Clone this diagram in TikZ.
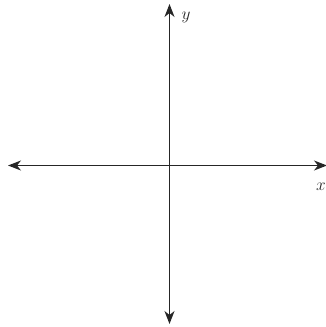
\documentclass[tikz,border=0pt]{standalone}
\usetikzlibrary{arrows.meta}
\begin{document}
\begin{tikzpicture}[x=1pt,y=-1pt,
  axis/.style={draw=black!85, line width=1.5pt, {Stealth[length=13pt,width=10pt,inset=4pt]}-{Stealth[length=13pt,width=10pt,inset=4pt]}},
  lbl/.style={font=\LARGE, text=black!85, inner sep=0pt}]
\useasboundingbox (0,0) rectangle (326,327);
\coordinate (L) at (8,165.5);
\coordinate (R) at (327,165.5);
\coordinate (T) at (169.5,4);
\coordinate (B) at (169.5,324);
\draw[axis] (L) -- (R);
\draw[axis] (B) -- (T);
\node[lbl] (ylab) at (186,17) {$y$};
\node[lbl, anchor=west] (xlab) at (316,187) {$x$};
\end{tikzpicture}
\end{document}
